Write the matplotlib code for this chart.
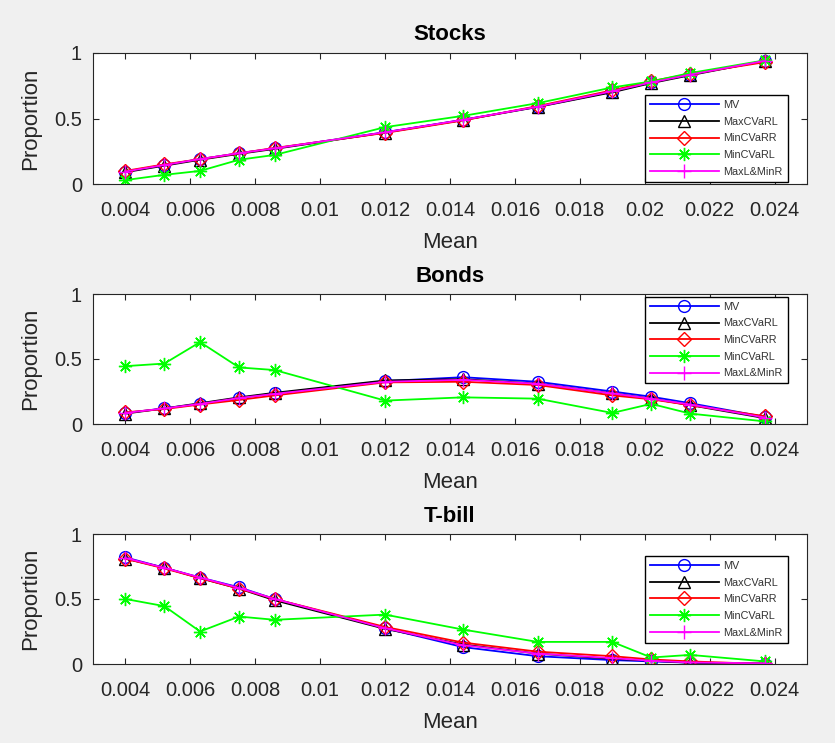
import matplotlib
matplotlib.use("Agg")
import matplotlib.pyplot as plt

plt.rcParams['font.family'] = ['Liberation Sans', 'DejaVu Sans']

# ---- data ----
mean = [0.0040, 0.0052, 0.0063, 0.0075, 0.0086, 0.0120, 0.0144, 0.0167, 0.0190, 0.0202, 0.0214, 0.0237]
series_names = ['MV', 'MaxCVaRL', 'MinCVaRR', 'MinCVaRL', 'MaxL&MinR']
panel_titles = ['Stocks', 'Bonds', 'T-bill']

stocks_mv       = [0.095, 0.145, 0.190, 0.235, 0.272, 0.395, 0.490, 0.590, 0.705, 0.775, 0.835, 0.940]
stocks_maxcvarl = [0.090, 0.140, 0.185, 0.230, 0.268, 0.393, 0.488, 0.588, 0.700, 0.770, 0.830, 0.940]
stocks_mincvarr = [0.100, 0.150, 0.190, 0.235, 0.275, 0.390, 0.485, 0.595, 0.715, 0.785, 0.840, 0.930]
stocks_mincvarl = [0.030, 0.070, 0.100, 0.185, 0.222, 0.434, 0.520, 0.617, 0.737, 0.783, 0.847, 0.944]
stocks_maxlminr = [0.095, 0.145, 0.190, 0.235, 0.272, 0.395, 0.490, 0.590, 0.708, 0.775, 0.835, 0.940]

bonds_mv       = [0.085, 0.120, 0.155, 0.200, 0.235, 0.330, 0.360, 0.325, 0.250, 0.210, 0.160, 0.055]
bonds_maxcvarl = [0.080, 0.120, 0.160, 0.205, 0.240, 0.335, 0.345, 0.310, 0.235, 0.195, 0.145, 0.045]
bonds_mincvarr = [0.090, 0.115, 0.150, 0.185, 0.220, 0.320, 0.325, 0.300, 0.220, 0.190, 0.145, 0.060]
bonds_mincvarl = [0.445, 0.465, 0.630, 0.435, 0.415, 0.180, 0.205, 0.195, 0.085, 0.155, 0.080, 0.020]
bonds_maxlminr = [0.085, 0.120, 0.155, 0.200, 0.232, 0.325, 0.340, 0.310, 0.235, 0.195, 0.150, 0.050]

tbill_mv       = [0.820, 0.740, 0.665, 0.590, 0.500, 0.275, 0.130, 0.060, 0.030, 0.020, 0.010, 0.000]
tbill_maxcvarl = [0.810, 0.740, 0.660, 0.580, 0.490, 0.270, 0.150, 0.080, 0.040, 0.025, 0.010, 0.005]
tbill_mincvarr = [0.810, 0.735, 0.660, 0.580, 0.500, 0.285, 0.165, 0.095, 0.060, 0.035, 0.020, 0.000]
tbill_mincvarl = [0.500, 0.445, 0.250, 0.365, 0.340, 0.380, 0.265, 0.170, 0.170, 0.050, 0.070, 0.020]
tbill_maxlminr = [0.815, 0.740, 0.665, 0.585, 0.500, 0.275, 0.145, 0.080, 0.045, 0.025, 0.012, 0.005]

x_ticks = [0.004, 0.006, 0.008, 0.010, 0.012, 0.014, 0.016, 0.018, 0.020, 0.022, 0.024]
x_tick_labels = ['0.004', '0.006', '0.008', '0.01', '0.012', '0.014', '0.016', '0.018', '0.02', '0.022', '0.024']
y_ticks = [0, 0.5, 1]
y_tick_labels = ['0', '0.5', '1']

panels = [
    [stocks_mv, stocks_maxcvarl, stocks_mincvarr, stocks_mincvarl, stocks_maxlminr],
    [bonds_mv, bonds_maxcvarl, bonds_mincvarr, bonds_mincvarl, bonds_maxlminr],
    [tbill_mv, tbill_maxcvarl, tbill_mincvarr, tbill_mincvarl, tbill_maxlminr],
]

# ---- styles ----
colors = ['#0000ff', '#000000', '#ff0000', '#00ff00', '#ff00ff']
markers = ['o', '^', 'D', (8, 2, 0), '+']
msizes = [8.5, 8, 7, 9.5, 10.5]
legend_anchor = [(0.773, 0.679), (0.773, 0.979), (0.773, 0.831)]

W, H = 835, 743
fig = plt.figure(figsize=(W / 100, H / 100), dpi=100, facecolor='#f0f0f0')

axes_px = [(53, 184), (294, 424), (534, 664)]
left_px, right_px = 93, 807
ink = '#262626'

for i, (top, bot) in enumerate(axes_px):
    ax = fig.add_axes([left_px / W, (H - bot) / H, (right_px - left_px) / W, (bot - top) / H])
    ax.set_facecolor('white')
    for j, vals in enumerate(panels[i]):
        ax.plot(mean, vals, color=colors[j], marker=markers[j], markersize=msizes[j],
                markerfacecolor='none', markeredgecolor=colors[j], markeredgewidth=1.0,
                linewidth=1.3, label=series_names[j])
    ax.set_xlim(0.003, 0.025)
    ax.set_ylim(0, 1)
    ax.set_xticks(x_ticks)
    ax.set_xticklabels(x_tick_labels)
    ax.set_yticks(y_ticks)
    ax.set_yticklabels(y_tick_labels)
    ax.tick_params(direction='in', length=4.5, width=0.8, colors=ink, labelsize=14.5,
                   top=True, right=True)
    ax.tick_params(axis='x', pad=12)
    ax.tick_params(axis='y', pad=8)
    for s in ax.spines.values():
        s.set_color(ink)
        s.set_linewidth(0.8)
    ax.set_title(panel_titles[i], fontsize=16, fontweight='bold', color='black', pad=9)
    ax.set_xlabel('Mean', fontsize=16, color=ink, labelpad=9)
    ax.set_ylabel('Proportion', fontsize=16, color=ink, labelpad=9)
    leg = ax.legend(loc='upper left', bbox_to_anchor=legend_anchor[i], borderaxespad=0,
                    fontsize=7.8, handlelength=6.4, handletextpad=0.4, labelspacing=0.62,
                    borderpad=0.45, numpoints=1, fancybox=False, framealpha=1,
                    edgecolor='black')
    leg.get_frame().set_linewidth(1.0)
    for t in leg.get_texts():
        t.set_color('#333333')

fig.savefig('out.png', dpi=100, facecolor=fig.get_facecolor())
